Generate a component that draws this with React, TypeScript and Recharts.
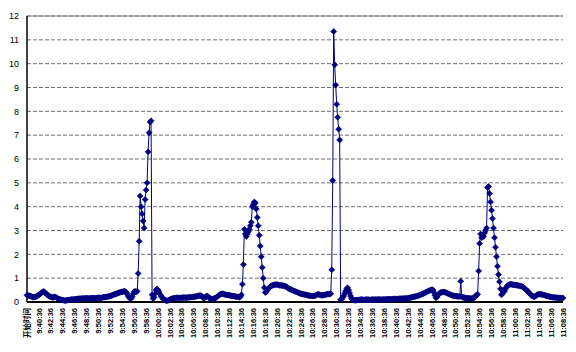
import { LineChart, Line, XAxis, YAxis, CartesianGrid, ReferenceLine } from 'recharts';

// one label every 2 minutes; the first category is the header cell
const tickLabels = [
  '开始时间',
  '9:40:36', '9:42:36', '9:44:36', '9:46:36', '9:48:36',
  '9:50:36', '9:52:36', '9:54:36', '9:56:36', '9:58:36',
  '10:00:36', '10:02:36', '10:04:36', '10:06:36', '10:08:36',
  '10:10:36', '10:12:36', '10:14:36', '10:16:36', '10:18:36',
  '10:20:36', '10:22:36', '10:24:36', '10:26:36', '10:28:36',
  '10:30:36', '10:32:36', '10:34:36', '10:36:36', '10:38:36',
  '10:40:36', '10:42:36', '10:44:36', '10:46:36', '10:48:36',
  '10:50:36', '10:52:36', '10:54:36', '10:56:36', '10:58:36',
  '11:00:36', '11:02:36', '11:04:36', '11:06:36', '11:08:36',
];

// samples every 10 s, 12 per row (one row = one label interval)
const readings = [
  0.28, 0.27, 0.27, 0.25, 0.24, 0.22, 0.2, 0.2, 0.21, 0.22, 0.24, 0.27,
  0.3, 0.33, 0.36, 0.4, 0.43, 0.44, 0.4, 0.36, 0.32, 0.28, 0.25, 0.23,
  0.22, 0.2, 0.19, 0.2, 0.22, 0.2, 0.18, 0.15, 0.13, 0.11, 0.1, 0.09,
  0.08, 0.07, 0.06, 0.06, 0.07, 0.08, 0.08, 0.09, 0.1, 0.1, 0.11, 0.11,
  0.12, 0.12, 0.13, 0.13, 0.14, 0.14, 0.14, 0.15, 0.15, 0.15, 0.15, 0.16,
  0.16, 0.16, 0.15, 0.15, 0.16, 0.16, 0.17, 0.17, 0.16, 0.16, 0.17, 0.17,
  0.18, 0.18, 0.17, 0.18, 0.19, 0.2, 0.2, 0.21, 0.22, 0.22, 0.23, 0.24,
  0.25, 0.27, 0.28, 0.3, 0.32, 0.33, 0.35, 0.36, 0.38, 0.4, 0.41, 0.42,
  0.43, 0.44, 0.45, 0.44, 0.4, 0.33, 0.25, 0.18, 0.15, 0.15, 0.22, 0.35,
  0.43, 0.45, 0.42, 0.45, 1.2, 2.55, 4.45, 4.0, 3.7, 3.4, 3.1, 4.3,
  4.7, 5.0, 6.3, 7.1, 7.55, 7.6, 0.3, 0.15, 0.2, 0.35, 0.5, 0.55,
  0.5, 0.42, 0.32, 0.25, 0.2, 0.15, 0.1, 0.08, 0.06, 0.05, 0.06, 0.08,
  0.1, 0.12, 0.14, 0.15, 0.16, 0.17, 0.17, 0.18, 0.18, 0.17, 0.17, 0.18,
  0.18, 0.18, 0.19, 0.19, 0.18, 0.18, 0.19, 0.2, 0.2, 0.2, 0.21, 0.21,
  0.22, 0.22, 0.23, 0.24, 0.25, 0.26, 0.27, 0.27, 0.25, 0.2, 0.16, 0.18,
  0.22, 0.25, 0.24, 0.2, 0.16, 0.14, 0.13, 0.13, 0.14, 0.15, 0.17, 0.2,
  0.24, 0.27, 0.3, 0.32, 0.34, 0.35, 0.34, 0.32, 0.3, 0.3, 0.29, 0.28,
  0.28, 0.27, 0.26, 0.25, 0.25, 0.24, 0.23, 0.22, 0.22, 0.21, 0.2, 0.22,
  0.3, 0.75, 1.57, 3.05, 2.85, 2.75, 2.85, 2.95, 3.05, 3.2, 3.35, 4.0,
  4.1, 4.2, 4.15, 3.9, 3.55, 3.2, 2.8, 2.35, 1.9, 1.45, 1.0, 0.6,
  0.4, 0.42, 0.5, 0.55, 0.6, 0.64, 0.67, 0.7, 0.7, 0.72, 0.72, 0.73,
  0.73, 0.72, 0.7, 0.7, 0.7, 0.69, 0.68, 0.68, 0.66, 0.65, 0.62, 0.58,
  0.56, 0.54, 0.52, 0.5, 0.48, 0.46, 0.45, 0.43, 0.42, 0.4, 0.38, 0.36,
  0.35, 0.34, 0.33, 0.32, 0.31, 0.3, 0.29, 0.28, 0.27, 0.26, 0.26, 0.25,
  0.25, 0.25, 0.26, 0.28, 0.3, 0.32, 0.32, 0.3, 0.29, 0.28, 0.28, 0.29,
  0.3, 0.31, 0.32, 0.33, 0.33, 0.34, 0.35, 1.35, 5.1, 11.35, 9.95, 9.1,
  8.3, 7.75, 7.25, 6.8, 0.1, 0.12, 0.18, 0.25, 0.35, 0.45, 0.55, 0.6,
  0.5, 0.38, 0.25, 0.15, 0.1, 0.08, 0.07, 0.07, 0.08, 0.08, 0.09, 0.09,
  0.1, 0.1, 0.1, 0.09, 0.09, 0.1, 0.1, 0.1, 0.1, 0.09, 0.09, 0.1,
  0.1, 0.1, 0.1, 0.1, 0.1, 0.1, 0.11, 0.11, 0.1, 0.1, 0.1, 0.11,
  0.11, 0.11, 0.11, 0.12, 0.12, 0.12, 0.12, 0.12, 0.12, 0.13, 0.13, 0.13,
  0.13, 0.13, 0.13, 0.14, 0.14, 0.14, 0.14, 0.15, 0.15, 0.15, 0.15, 0.16,
  0.16, 0.17, 0.18, 0.19, 0.2, 0.21, 0.22, 0.23, 0.24, 0.25, 0.26, 0.28,
  0.3, 0.31, 0.33, 0.35, 0.37, 0.39, 0.41, 0.43, 0.45, 0.47, 0.49, 0.5,
  0.52, 0.5, 0.4, 0.28, 0.18, 0.2, 0.28, 0.35, 0.38, 0.4, 0.41, 0.42,
  0.42, 0.41, 0.4, 0.38, 0.36, 0.34, 0.32, 0.3, 0.28, 0.27, 0.26, 0.25,
  0.25, 0.24, 0.24, 0.23, 0.23, 0.87, 0.22, 0.2, 0.19, 0.18, 0.17, 0.17,
  0.16, 0.16, 0.15, 0.15, 0.15, 0.16, 0.17, 0.2, 0.25, 0.3, 0.32, 1.3,
  2.45, 2.85, 2.7, 2.8, 2.75, 2.9, 3.0, 3.1, 4.8, 4.85, 4.55, 4.2,
  3.85, 3.5, 3.1, 2.7, 2.3, 1.9, 1.5, 1.15, 0.85, 0.55, 0.3, 0.35,
  0.5, 0.45, 0.55, 0.62, 0.68, 0.72, 0.73, 0.74, 0.74, 0.73, 0.72, 0.72,
  0.71, 0.7, 0.7, 0.69, 0.68, 0.67, 0.66, 0.64, 0.62, 0.58, 0.55, 0.5,
  0.47, 0.43, 0.38, 0.33, 0.29, 0.25, 0.23, 0.22, 0.24, 0.27, 0.3, 0.32,
  0.33, 0.33, 0.32, 0.31, 0.3, 0.29, 0.28, 0.26, 0.25, 0.24, 0.23, 0.22,
  0.21, 0.2, 0.2, 0.19, 0.19, 0.18, 0.18, 0.18, 0.17, 0.17, 0.17, 0.17,
  0.17,
];

const yTicks = [0, 1, 2, 3, 4, 5, 6, 7, 8, 9, 10, 11, 12];

const STEP = 12; // samples per label
const NAVY = '#000080';
const FONT = "'Liberation Sans', 'Noto Sans CJK SC', sans-serif";

const chartData = readings.map((v, i) => ({ i, value: v }));

const labelFor = (i: number) => (i % STEP === 0 ? tickLabels[i / STEP] : '');

const TimeTick = (props: any) => {
  const { x, y, payload } = props;
  return (
    <g transform={`translate(${x},${y})`}>
      <text
        transform="rotate(-90)"
        textAnchor="end"
        dy="0.35em"
        fontSize={7.5}
        fontWeight="bold"
        fontFamily={FONT}
        fill="#000"
      >
        {labelFor(payload.value)}
      </text>
    </g>
  );
};

const Diamond = (props: any) => {
  const { cx, cy, index } = props;
  if (cx == null || cy == null) return <g key={index} />;
  const r = 3;
  return (
    <path
      key={index}
      d={`M${cx},${cy - r}L${cx + r},${cy}L${cx},${cy + r}L${cx - r},${cy}Z`}
      fill={NAVY}
      stroke={NAVY}
      strokeWidth={0.6}
    />
  );
};

export default function App() {
  return (
    <div style={{ position: 'absolute', left: 0, top: 0, background: '#fff' }}>
      <LineChart
        width={576}
        height={352}
        data={chartData}
        margin={{ top: 16, right: 13, bottom: 5, left: 0 }}
      >
        <CartesianGrid vertical={false} stroke="#707070" strokeDasharray="4 2" />
        <ReferenceLine y={12} stroke="#808080" strokeWidth={1} />
        <XAxis
          dataKey="i"
          type="category"
          interval={STEP - 1}
          height={45}
          tickLine={false}
          tickSize={4}
          tickMargin={2}
          axisLine={{ stroke: '#000', strokeWidth: 2 }}
          tick={<TimeTick />}
        />
        <YAxis
          width={27}
          domain={[0, 12]}
          ticks={yTicks}
          interval={0}
          tickLine={false}
          axisLine={{ stroke: '#000', strokeWidth: 1.5 }}
          tick={{ fill: '#000', fontSize: 9, fontFamily: FONT }}
        />
        <Line
          type="linear"
          dataKey="value"
          stroke={NAVY}
          strokeWidth={1}
          dot={Diamond}
          activeDot={false}
          isAnimationActive={false}
        />
      </LineChart>
    </div>
  );
}
